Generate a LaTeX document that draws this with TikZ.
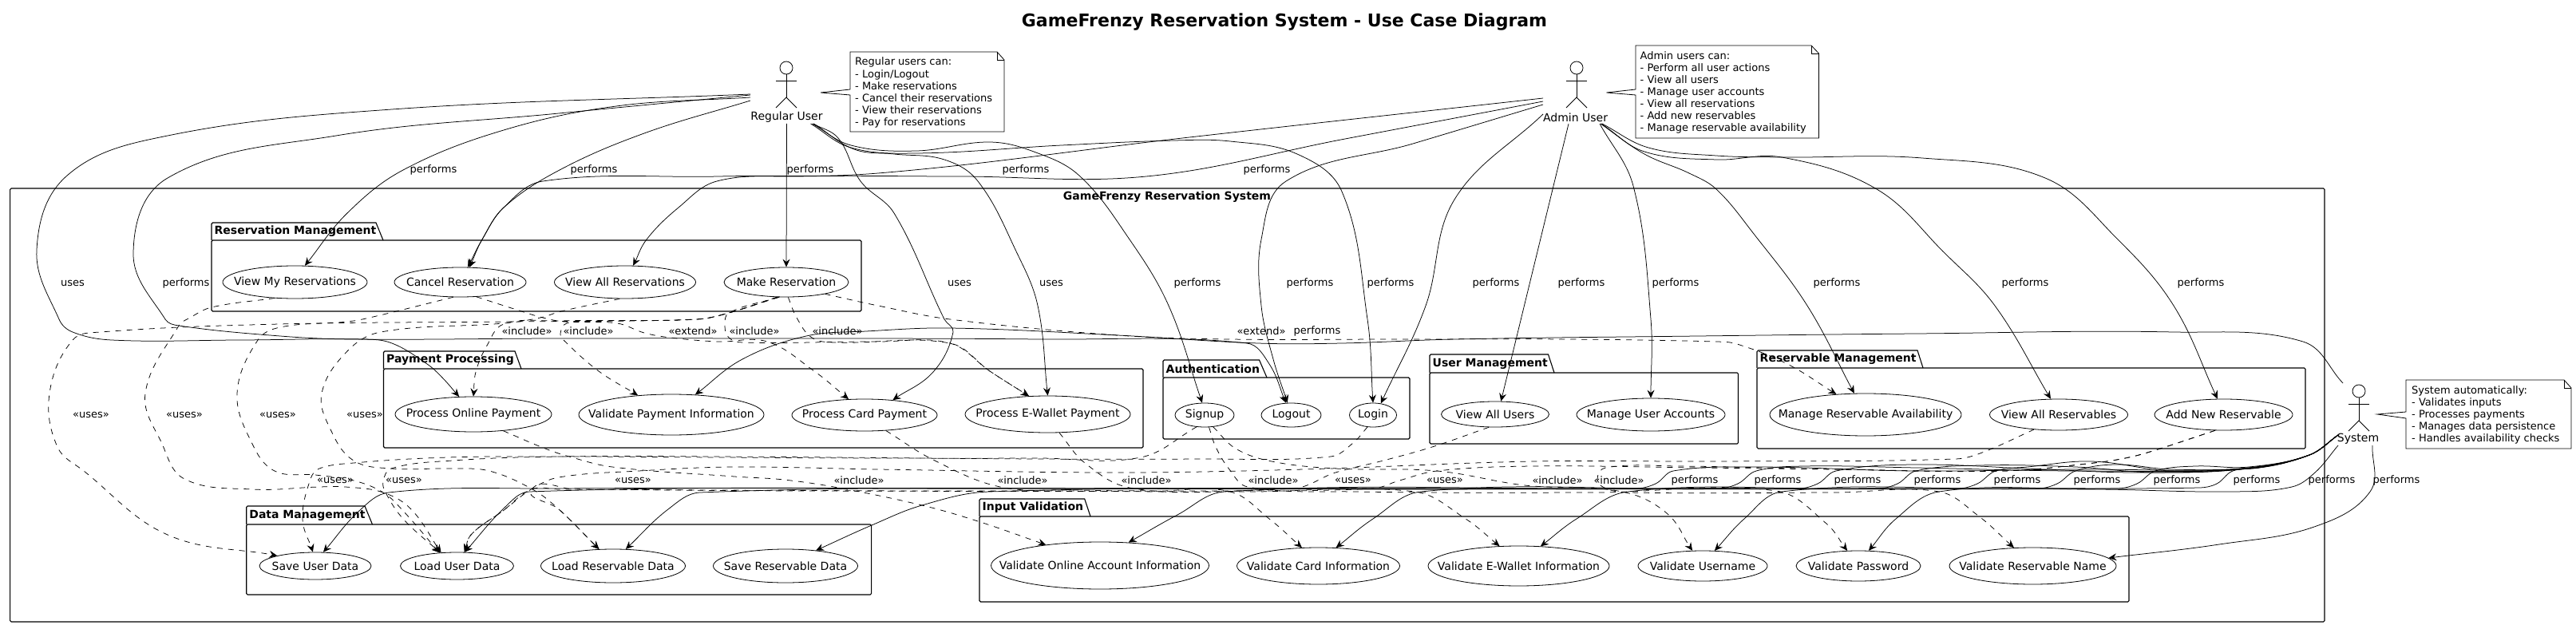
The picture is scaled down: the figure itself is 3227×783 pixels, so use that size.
\documentclass[tikz,border=0pt]{standalone}
\usepackage{fontspec}
\setmainfont{DejaVu Sans}
\usetikzlibrary{arrows.meta,shapes.geometric}
\tikzset{
  perf/.style={-{Stealth[length=10pt,width=9pt,inset=3.5pt]},line width=.75pt,line join=round},
  dep/.style={perf,dash pattern=on 7pt off 7pt},
  uc/.style={ellipse,draw,fill=white,inner sep=0pt,line width=.8pt,font=\fontsize{14}{16}\selectfont},
  lab/.style={inner sep=0pt,font=\fontsize{13}{15}\selectfont},
  frame/.style={line width=1.1pt,rounded corners=1.5pt},
  pkgt/.style={inner sep=0pt,anchor=west,font=\bfseries\fontsize{14}{16}\selectfont},
  hit/.style={rectangle,inner sep=0pt,outer sep=0pt},
  fig/.style={line width=.8pt},
  actorlab/.style={inner sep=0pt,font=\fontsize{14}{16}\selectfont},
  notetxt/.style={inner sep=0pt,anchor=west,align=left,font=\fontsize{13}{15.05}\selectfont},
  notebox/.style={line width=.8pt,fill=white,line join=miter}
}
\newcount\cvN
\def\cvget#1#2{\csname cv#1#2\endcsname}
\newcommand\cv[2]{%
  \global\cvN=0
  \foreach \cvp in {#2}{%
    \global\advance\cvN by 1
    \path \cvp coordinate (cvp\the\cvN);
    \pgfpointanchor{cvp\the\cvN}{center}%
    \pgfgetlastxy{\cvxx}{\cvyy}%
    \pgfmathsetmacro\cvxn{\cvxx}\pgfmathsetmacro\cvyn{\cvyy}%
    \expandafter\xdef\csname cvX\the\cvN\endcsname{\cvxn}%
    \expandafter\xdef\csname cvY\the\cvN\endcsname{\cvyn}%
  }%
  \xdef\cvn{\the\cvN}%
  \foreach \cvi in {1,...,\cvn}{%
    \pgfmathtruncatemacro\cvia{max(\cvi-1,1)}%
    \pgfmathtruncatemacro\cvib{min(\cvi+1,\cvn)}%
    \pgfmathsetmacro\cvdx{(\cvget{X}{\cvib})-(\cvget{X}{\cvia})}%
    \pgfmathsetmacro\cvdy{(\cvget{Y}{\cvib})-(\cvget{Y}{\cvia})}%
    \pgfmathsetmacro\cvlen{veclen(\cvdx,\cvdy)}%
    \pgfmathsetmacro\cvux{\cvdx/\cvlen}%
    \pgfmathsetmacro\cvuy{\cvdy/\cvlen}%
    \expandafter\xdef\csname cvUX\cvi\endcsname{\cvux}%
    \expandafter\xdef\csname cvUY\cvi\endcsname{\cvuy}%
  }%
  \xdef\cvpath{(\cvget{X}{1}pt,\cvget{Y}{1}pt)}%
  \foreach \cvi in {2,...,\cvn}{%
    \pgfmathtruncatemacro\cvia{\cvi-1}%
    \pgfmathsetmacro\cvdx{(\cvget{X}{\cvi})-(\cvget{X}{\cvia})}%
    \pgfmathsetmacro\cvdy{(\cvget{Y}{\cvi})-(\cvget{Y}{\cvia})}%
    \pgfmathsetmacro\cvT{veclen(\cvdx,\cvdy)*0.36}%
    \pgfmathsetmacro\cvax{(\cvget{X}{\cvia})+(\cvget{UX}{\cvia})*\cvT}%
    \pgfmathsetmacro\cvay{(\cvget{Y}{\cvia})+(\cvget{UY}{\cvia})*\cvT}%
    \pgfmathsetmacro\cvbx{(\cvget{X}{\cvi})-(\cvget{UX}{\cvi})*\cvT}%
    \pgfmathsetmacro\cvby{(\cvget{Y}{\cvi})-(\cvget{UY}{\cvi})*\cvT}%
    \xdef\cvpath{\cvpath .. controls (\cvax pt,\cvay pt) and (\cvbx pt,\cvby pt) .. (\cvget{X}{\cvi}pt,\cvget{Y}{\cvi}pt)}%
  }%
  \draw[#1] \cvpath;%
}
\newcommand\uc[6]{\node[uc,minimum width=2*#4,minimum height=2*#5] (#1) at (#2,#3) {\makebox[0pt][c]{#6}};}
% name, title, left, tabtop, bodytop, bottom, right, tabR top, tabR bottom
\newcommand\pkg[9]{%
  \draw[frame] (#3,#5) rectangle (#7,#6);
  \draw[line width=1.1pt] (#3,#5) -- (#3,{#4+1.5}) -- ({#3+1.5},#4) -- (#8,#4) -- (#9,#5);
  \node[pkgt] (#1) at ({#3+3.5},{(#4+#5)/2}) {#2};
}
\newcommand\actor[3]{%
  \draw[fig] (#2,{#3+8}) circle (8pt);
  \draw[fig] ({#2-13},{#3+24}) -- ({#2+13},{#3+24});
  \draw[fig] (#2,{#3+16}) -- (#2,{#3+45});
  \draw[fig] ({#2-13},{#3+58}) -- (#2,{#3+45}) -- ({#2+13},{#3+58});
}
\begin{document}
\begin{tikzpicture}[x=1pt,y=-1pt]
\useasboundingbox (0,0) rectangle (3227,783);
\fill[white] (0,0) rectangle (3227,783);
\node[inner sep=0pt,font=\bfseries\fontsize{22}{26}\selectfont] (title) at (1609,28) {GameFrenzy Reservation System - Use Case Diagram};

% outer system frame
\draw[frame] (12.6,236) rectangle (2912,779);
\node[inner sep=0pt,font=\bfseries\fontsize{14}{16}\selectfont] (systitle) at (1462,247) {GameFrenzy Reservation System};

% packages
\pkg{pres}{Reservation Management}{265}{279}{301}{390}{1079}{471}{480}
\pkg{ppay}{Payment Processing}{480.5}{440}{462}{561}{1432}{645}{653}
\pkg{paut}{Authentication}{1457}{451}{473}{550}{1766}{1577.5}{1587}
\pkg{pusr}{User Management}{1791}{444}{467}{556}{2177.5}{1939.5}{1947}
\pkg{prsv}{Reservable Management}{2201}{439}{461}{562}{2888}{2402}{2409}
\pkg{pdat}{Data Management}{308.7}{634}{657}{745}{1091.6}{457}{466.5}
\pkg{pval}{Input Validation}{1227}{625}{647}{754}{2667}{1358.7}{1366}

% use cases
\uc{viewmy}{369.5}{353.5}{90.5}{20.5}{View My Reservations}
\uc{cancel}{576.5}{353.5}{82.5}{18.5}{Cancel Reservation}
\uc{viewallr}{783}{353.5}{88.5}{20.5}{View All Reservations}
\uc{makeres}{985}{353.5}{78}{18.5}{Make Reservation}
\uc{online}{593}{519}{98}{22}{Process Online Payment}
\uc{valpay}{841}{519.5}{116}{25.5}{Validate Payment Information}
\uc{card}{1083}{520}{91}{20}{Process Card Payment}
\uc{ewallet}{1312.5}{519}{103.5}{23}{Process E-Wallet Payment}
\uc{signup}{1509}{520}{37}{15}{Signup}
\uc{logout}{1617.5}{520}{37.5}{15}{Logout}
\uc{login}{1720}{520}{29.5}{15}{Login}
\uc{viewusers}{1873}{519}{67.5}{16}{View All Users}
\uc{manageacc}{2068}{519.5}{93}{20.5}{Manage User Accounts}
\uc{manageavail}{2337}{519.5}{120}{26.5}{Manage Reservable Availability}
\uc{viewallres}{2579}{519.5}{86.5}{19.5}{View All Reservables}
\uc{addnew}{2785.5}{519.5}{86.5}{19.5}{Add New Reservable}
\uc{saveuser}{395}{709}{70}{17}{Save User Data}
\uc{loaduser}{572.5}{709}{71}{17}{Load User Data}
\uc{loadres}{768}{709}{90.5}{21}{Load Reservable Data}
\uc{saveres}{984}{709}{90.5}{21}{Save Reservable Data}
\uc{valonline}{1378}{708.5}{136.5}{29.5}{Validate Online Account Information}
\uc{valcard}{1651.5}{709}{102}{23}{Validate Card Information}
\uc{valew}{1902.5}{709}{113.5}{25}{Validate E-Wallet Information}
\uc{valuser}{2133}{709}{81}{19}{Validate Username}
\uc{valpass}{2328}{709}{78}{19}{Validate Password}
\uc{valname}{2546.5}{709}{104.5}{23}{Validate Reservable Name}

% actors
\node[hit,minimum width=91,minimum height=80] (reg) at (985.5,115) {};
\node[hit,minimum width=82,minimum height=80] (adm) at (1974,115) {};
\node[hit,minimum width=52,minimum height=78] (sys) at (2955,519) {};
\actor{reg}{985}{77}
\actor{adm}{1975}{77}
\actor{sys}{2955}{482}
\node[actorlab] (regl) at (985.5,147) {Regular User};
\node[actorlab] (adml) at (1973.5,147) {Admin User};
\node[actorlab] (sysl) at (2954,550) {System};

% notes
\draw[notebox] (1065,65) -- (1249,65) -- (1258,75) -- (1258,165) -- (1065,165) -- (1065,119) -- (1028,116) -- (1065,112) -- cycle;
\draw[line width=.8pt] (1249,65) -- (1249,75) -- (1258,75);
\node[notetxt] (n1) at (1071,116) {Regular users can:\\- Login/Logout\\- Make reservations\\- Cancel their reservations\\- View their reservations\\- Pay for reservations};
\draw[notebox] (2049,57) -- (2269,57) -- (2278.5,67) -- (2278.5,173) -- (2049,173) -- (2049,119) -- (2012.5,116) -- (2049,112) -- cycle;
\draw[line width=.8pt] (2269,57) -- (2269,67) -- (2278.5,67);
\node[notetxt] (n2) at (2054.5,116) {Admin users can:\\- Perform all user actions\\- View all users\\- Manage user accounts\\- View all reservations\\- Add new reservables\\- Manage reservable availability};
\draw[notebox] (3014,476) -- (3212,476) -- (3221,486) -- (3221,562) -- (3014,562) -- (3014,524) -- (2978,519) -- (3014,516) -- cycle;
\draw[line width=.8pt] (3212,476) -- (3212,486) -- (3221,486);
\node[notetxt] (n3) at (3021,520) {System automatically:\\- Validates inputs\\- Processes payments\\- Manages data persistence\\- Handles availability checks};

% Regular User connectors
\cv{perf}{([yshift=-3pt]reg.west),(491,137),(210,170),(84,220),(46,313),(74,400),(91,416),(140,426),(300,426),(456,425),(491,430),(535,456),(554,473),(online.129)}
\cv{perf}{([yshift=-4pt]reg.west),(700,142),(421,170),(210,223),(167,317),(207,400),(224,408),(351,421),(442,425),(700,424),(1000,424),(1300,425),(1562,430),(1590,456),(logout.113)}
\cv{perf}{([yshift=-7pt]reg.west),(772,133),(631,163),(505,213),(435,267),(viewmy.59)}
\cv{perf}{([yshift=-11pt]reg.west),(807,167),(701,213),(631,260),(604,300),(cancel.63)}
\cv{perf}{(reg.south),(makeres.north)}
\cv{perf}{([xshift=32pt]reg.south),(1066,182),(1148,189),(1239,178),(1295,190),(1352,220),(1415,300),(1464,383),(signup.101)}
\cv{perf}{([xshift=34pt]reg.south),(1070,187),(1120,193),(1183,200),(1225,227),(1274,317),(1300,383),(ewallet.north)}
\cv{perf}{([xshift=33pt]reg.south),(1050,173),(1078,227),(1120,267),(1183,400),(1194,416),(1169,466),(card.28)}
\cv{perf}{([xshift=30pt]reg.south),(1066,185),(1148,192),(1330,182),(1471,176),(1541,177),(1625,193),(1681,240),(1713,400),(login.north)}

% Admin User connectors
\cv{perf}{([yshift=-8pt]adm.west),(1490,172),(1100,217),(900,221),(680,227),(631,260),(604,300),(cancel.58)}
\cv{perf}{([yshift=-12pt]adm.west),(1685,174),(1436,221),(1200,221),(1000,221),(898,227),(850,260),(810,300),(viewallr.64)}
\cv{perf}{([yshift=-16pt]adm.west),(1770,180),(1611,227),(1580,300),(1580,383),(1595,450),(logout.107)}
\cv{perf}{([yshift=-28pt]adm.west),(1822,250),(1786,383),(login.56)}
\cv{perf}{([xshift=-9pt]adm.south),(viewusers.66)}
\cv{perf}{([xshift=30pt]adm.south),(2046,233),(2068,400),(manageacc.north)}
\cv{perf}{([xshift=31pt]adm.south),(2060,193),(2116,217),(2150,237),(2197,293),(2264,383),(manageavail.118)}
\cv{perf}{([xshift=32pt]adm.south),(2060,190),(2150,200),(2232,197),(2351,237),(2436,317),(2499,383),(viewallres.117)}
\cv{perf}{([xshift=33pt]adm.south),(2065,185),(2150,195),(2232,197),(2408,198),(2562,223),(2653,300),(2723,383),(addnew.111)}

% System connectors
\cv{perf}{([xshift=6pt]sys.north west),(2885,428),(2723,416),(2400,418),(2127,421),(1822,425),(1681,430),(1576,430),(1400,420),(1190,411),(1085,415),(1010,421),(930,450),(valpay.40)}
\cv{perf}{([xshift=17pt]sys.south),(2969,616),(2899,660),(2780,682),(valname.6)}
\cv{perf}{([yshift=-39pt]sys.west),(2900,592),(2871,610),(2793,616),(2618,613),(2429,616),(2375,650),(valpass.56)}
\cv{perf}{([yshift=-26pt]sys.west),(2893,570),(2830,586),(2797,590),(2777,606),(2755,611),(2500,612),(2232,616),(2185,650),(valuser.52)}
\cv{perf}{([yshift=-26pt]sys.west),(2893,570),(2817,585),(2750,584),(2700,590),(2677,606),(2652,612),(2300,612),(2039,616),(1975,650),(valew.42)}
\cv{perf}{([yshift=-26pt]sys.west),(2893,570),(2817,586),(2720,588),(2650,582),(2600,590),(2577,606),(2552,612),(2100,612),(1780,616),(1720,650),(valcard.46)}
\cv{perf}{([yshift=-26pt]sys.west),(2893,570),(2817,586),(2720,590),(2620,578),(2540,585),(2500,590),(2477,606),(2452,612),(2000,612),(1534,616),(1475,645),(valonline.39)}
\cv{perf}{([yshift=-26pt]sys.west),(2893,570),(2817,587),(2700,592),(2600,585),(2480,583),(2400,590),(2377,606),(2352,612),(1800,612),(1239,616),(1155,633),(1092,658),(saveres.27)}
\cv{perf}{([yshift=-26pt]sys.west),(2893,570),(2817,587),(2680,592),(2560,588),(2400,582),(2300,590),(2277,606),(2252,612),(1500,612),(877,617),(837,638),(loadres.53)}
\cv{perf}{([yshift=-26pt]sys.west),(2893,570),(2817,587),(2600,590),(2400,586),(2260,584),(2200,590),(2177,606),(2152,612),(1300,612),(663,616),(633,635),(loaduser.61)}
\cv{perf}{([yshift=-26pt]sys.west),(2893,570),(2817,587),(2600,588),(2400,590),(2200,585),(2096,590),(2074,606),(2048,612),(1200,612),(700,612),(487,617),(450,640),(saveuser.60)}

% dashed: reservation management
\cv{dep}{(makeres.-122),(913,392),(873,400),(640,403),(350,406),(126,416),(91,426),(62,493),(72,560),(105,590),(210,670),(saveuser.165)}
\cv{dep}{(viewmy.-142),(265,385),(238,398),(224,408),(182,493),(203,556),(231,600),(316,613),(400,610),(433,610),(480,617),(515,638),(loaduser.140)}
\cv{dep}{(cancel.-115),(463,398),(435,403),(351,410),(323,426),(297,493),(316,556),(344,590),(395,595),(443,602),(480,617),(505,640),(loaduser.143)}
\cv{dep}{(viewallr.-108),(703,390),(677,398),(631,405),(477,416),(435,440),(403,493),(415,540),(443,577),(490,587),(567,587),(613,590),(667,613),(700,638),(loadres.130)}
\cv{dep}{(makeres.-117),(913,392),(873,400),(700,402),(631,406),(610,433),(596,466),(online.north)}
\cv{dep}{(makeres.-120),(913,392),(873,400),(760,402),(710,405),(702,418),(707,427),(750,465),(valpay.150)}
\cv{dep}{(cancel.-42),(647,388),(680,398),(707,403),(773,405),(807,417),(840,423),(900,428),(961,428),(1020,465),(card.135)}
\cv{dep}{(makeres.-115),(913,392),(908,408),(913,423),(930,429),(1100,428),(1190,430),(1240,465),(ewallet.136)}
\cv{dep}{(makeres.-83),(998,398),(1017,423),(1045,429),(1190,430),(1240,465),(ewallet.136)}
\cv{dep}{(makeres.-17),(1100,383),(1190,400),(1400,420),(1541,425),(1751,425),(1962,425),(2150,428),(2176,431),(2239,456),(manageavail.145)}

% dashed: to data and validation
\cv{dep}{(signup.-124),(1429,573),(1300,574),(1100,574),(900,573),(700,572),(561,573),(443,580),(400,587),(389,600),(379,650),(saveuser.100)}
\cv{dep}{(login.-115),(1695,555),(1667,572),(1500,575),(1300,575),(900,572),(700,572),(567,577),(490,587),(480,603),(483,617),(505,650),(loaduser.142)}
\cv{dep}{(viewusers.-116),(1794,560),(1733,577),(1673,592),(1620,612),(1300,615),(900,614),(700,613),(666,613),(630,640),(590,670),(loaduser.62)}
\cv{dep}{(viewallres.-149),(2483,567),(2450,575),(2150,578),(1920,578),(1633,588),(1400,592),(1100,588),(920,585),(800,590),(700,598),(667,612),(630,640),(590,670),(loaduser.60)}
\cv{dep}{(addnew.-118),(2703,563),(2667,573),(2623,580),(2510,590),(2300,588),(2127,586),(1920,584),(1800,590),(1753,602),(1720,612),(1500,615),(1000,615),(720,613),(666,613),(700,638),(loadres.130)}
\cv{dep}{(online.-29),(683,562),(713,572),(767,585),(920,597),(982,601),(1050,611),(1155,633),(1225,653),(valonline.159)}
\cv{dep}{(card.-36),(1169,576),(1253,610),(1350,614),(1450,615),(1541,616),(1590,650),(valcard.132)}
\cv{dep}{(ewallet.-58),(1359,580),(1415,611),(1550,616),(1772,616),(1836,650),(valew.134)}
\cv{dep}{(signup.-54),(1548,562),(1593,578),(1673,587),(1800,590),(1910,608),(2032,616),(2088,643),(valuser.124)}
\cv{dep}{(signup.-70),(1523,560),(1540,588),(1563,610),(1700,616),(2000,617),(2225,615),(2288,656),(valpass.126)}
\cv{dep}{(addnew.-118),(2703,563),(2667,573),(2623,580),(2510,590),(2300,588),(2102,584),(2011,586),(2001,601),(2012,612),(2040,617),(2300,617),(2429,616),(2478,646),(valname.136)}

% connector labels
\foreach \nm/\x/\y/\t in {
 a1/543/213/performs,a2/744/213/performs,a3/1015/213/performs,a4/1285/213/performs,a5/1587/213/performs,
 b1/91/355/uses,b2/233/355/performs,b3/1202/355/uses,b4/1317/355/uses,b5/1500/355/performs,b6/1641/355/performs,b7/1742/355/performs,b8/1874/355/performs,b9/1981/355/performs,b10/2099/355/performs,b11/2301/355/performs,b12/2537/355/performs,b13/2757/355/performs,
 c1/660/415/«include»,c2/737/415/«include»,c3/868/415/«extend»,c4/945/415/«include»,c5/1049/415/«include»,c6/1580/415/«extend»,c7/1650/415/performs,
 d1/114/520/«uses»,d2/231/520/«uses»,d3/348/520/«uses»,d4/457/520/«uses»,
 e1/420/602/«uses»,e2/506/602/«uses»,e3/793/602/«uses»,e4/1076/602/«include»,e5/1281/602/«include»,e6/1436/602/«include»,e7/1595/602/«include»,e8/1695/602/«uses»,e9/1810/602/«uses»,e10/1951/602/«include»,e11/2028/602/«include»,
 f1/2123/602/performs,f2/2227/602/performs,f3/2327/602/performs,f4/2427/602/performs,f5/2527/602/performs,f6/2627/602/performs,f7/2727/602/performs,f8/2827/602/performs,f9/2921/602/performs,f10/3002/602/performs}
 {\node[lab] (\nm) at (\x,\y) {\t};}
\end{tikzpicture}
\end{document}
